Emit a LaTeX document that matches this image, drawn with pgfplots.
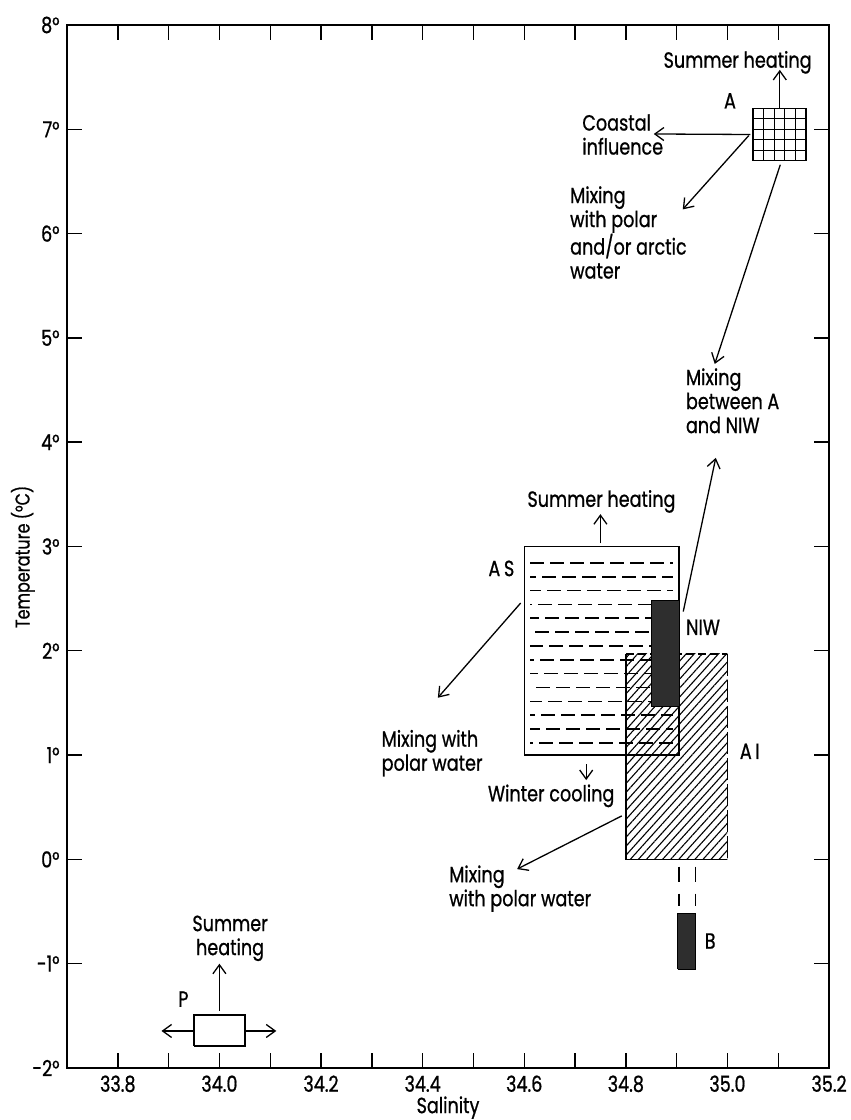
\documentclass[border=0pt]{standalone}
\usepackage{pgfplots}
\pgfplotsset{compat=1.18}
\usepackage{fontspec}
\setmainfont[FakeStretch=0.8, FakeBold=0.8]{Poppins}
\usetikzlibrary{arrows.meta,patterns.meta}

\begin{document}
\fontsize{22}{24}\selectfont
\begin{tikzpicture}[>={Straight Barb[length=9pt,width=13pt]}]
\begin{axis}[
  scale only axis, width=762pt, height=1043pt,
  xmin=33.7, xmax=35.2, ymin=-2, ymax=8,
  xtick={33.8,34.0,34.2,34.4,34.6,34.8,35.0,35.2},
  xticklabels={33.8,34.0,34.2,34.4,34.6,34.8,35.0,35.2},
  minor xtick={33.9,34.1,34.3,34.5,34.7,34.9,35.1},
  ytick={-2,-1,0,1,2,3,4,5,6,7,8},
  yticklabels={-2°,-1°,0°,1°,2°,3°,4°,5°,6°,7°,8°},
  major tick length=15pt, minor tick length=15pt,
  axis line style={line width=1.6pt},
  tick style={black, line width=1.4pt},
  xlabel={Salinity}, ylabel={Temperature (°C)},
  xlabel style={at={(axis description cs:0.5,-0.038)}, anchor=center},
  ylabel style={at={(axis description cs:-0.058,0.49)}, anchor=center, font=\fontsize{20}{22}\selectfont},
  unbounded coords=jump,
  clip=false,
]
% ---- A (grid box)
\addplot[line width=1.4pt] coordinates {(35.05,6.7)(35.155,6.7)(35.155,7.2)(35.05,7.2)(35.05,6.7)};
\addplot[line width=1.2pt] coordinates {
 (35.071,6.7)(35.071,7.2)(nan,nan)(35.092,6.7)(35.092,7.2)(nan,nan)
 (35.113,6.7)(35.113,7.2)(nan,nan)(35.134,6.7)(35.134,7.2)(nan,nan)
 (35.05,6.8)(35.155,6.8)(nan,nan)(35.05,6.9)(35.155,6.9)(nan,nan)
 (35.05,7.0)(35.155,7.0)(nan,nan)(35.05,7.1)(35.155,7.1)};
% ---- AS box
\addplot[line width=1.4pt] coordinates {(34.6,1.0)(34.905,1.0)(34.905,3.0)(34.6,3.0)(34.6,1.0)};
\addplot[line width=1.6pt, dash pattern=on 14pt off 6pt, dash phase=0pt] coordinates {(34.612,2.843)(34.893,2.843)};
\addplot[line width=1.6pt, dash pattern=on 14pt off 6pt, dash phase=8pt] coordinates {(34.612,2.710)(34.893,2.710)};
\addplot[line width=1.6pt, dash pattern=on 14pt off 6pt, dash phase=3pt] coordinates {(34.612,2.577)(34.893,2.577)};
\addplot[line width=1.6pt, dash pattern=on 14pt off 6pt, dash phase=12pt] coordinates {(34.612,2.445)(34.893,2.445)};
\addplot[line width=1.6pt, dash pattern=on 14pt off 6pt, dash phase=5pt] coordinates {(34.612,2.312)(34.893,2.312)};
\addplot[line width=1.6pt, dash pattern=on 14pt off 6pt, dash phase=15pt] coordinates {(34.612,2.179)(34.893,2.179)};
\addplot[line width=1.6pt, dash pattern=on 14pt off 6pt, dash phase=1pt] coordinates {(34.612,2.046)(34.893,2.046)};
\addplot[line width=1.6pt, dash pattern=on 14pt off 6pt, dash phase=10pt] coordinates {(34.612,1.913)(34.893,1.913)};
\addplot[line width=1.6pt, dash pattern=on 14pt off 6pt, dash phase=6pt] coordinates {(34.612,1.781)(34.893,1.781)};
\addplot[line width=1.6pt, dash pattern=on 14pt off 6pt, dash phase=14pt] coordinates {(34.612,1.648)(34.893,1.648)};
\addplot[line width=1.6pt, dash pattern=on 14pt off 6pt, dash phase=2pt] coordinates {(34.612,1.515)(34.893,1.515)};
\addplot[line width=1.6pt, dash pattern=on 14pt off 6pt, dash phase=9pt] coordinates {(34.612,1.382)(34.893,1.382)};
\addplot[line width=1.6pt, dash pattern=on 14pt off 6pt, dash phase=4pt] coordinates {(34.612,1.249)(34.893,1.249)};
\addplot[line width=1.6pt, dash pattern=on 14pt off 6pt, dash phase=11pt] coordinates {(34.612,1.117)(34.893,1.117)};
% ---- AI hatched box
\addplot[draw=none, pattern={Lines[angle=48,distance=6pt,line width=1.1pt]}] coordinates {(34.8,0.0)(35.0,0.0)(35.0,1.97)(34.8,1.97)(34.8,0.0)};
\addplot[line width=1.4pt] coordinates {(34.8,1.97)(34.8,0.0)(35.0,0.0)};
\addplot[line width=1.4pt, dash pattern=on 22pt off 4pt] coordinates {(35.0,1.97)(35.0,0.0)};
\addplot[line width=1.4pt, dash pattern=on 8pt off 4pt] coordinates {(34.8,1.97)(35.0,1.97)};
% ---- NIW
\addplot[draw=black, fill=black!82, line width=0.8pt] coordinates {(34.85,1.47)(34.905,1.47)(34.905,2.48)(34.85,2.48)(34.85,1.47)};
% ---- B and dashed link
\addplot[draw=black, fill=black!82, line width=0.8pt] coordinates {(34.902,-1.05)(34.937,-1.05)(34.937,-0.52)(34.902,-0.52)(34.902,-1.05)};
\addplot[line width=1.4pt, dash pattern=on 15pt off 12pt] coordinates {(34.905,-0.07)(34.905,-0.45)};
\addplot[line width=1.4pt, dash pattern=on 15pt off 12pt] coordinates {(34.937,-0.07)(34.937,-0.45)};
% ---- P box
\addplot[line width=1.4pt] coordinates {(33.95,-1.79)(34.05,-1.79)(34.05,-1.49)(33.95,-1.49)(33.95,-1.79)};
% ---- arrows
\addplot[->, line width=1.3pt] coordinates {(34.0,-1.45)(34.0,-1.0)};
\addplot[->, line width=1.3pt] coordinates {(33.95,-1.645)(33.886,-1.645)};
\addplot[->, line width=1.3pt] coordinates {(34.05,-1.645)(34.112,-1.645)};
\addplot[->, line width=1.3pt] coordinates {(35.103,7.2)(35.103,7.57)};
\addplot[->, line width=1.3pt] coordinates {(35.045,6.95)(34.855,6.955)};
\addplot[->, line width=1.3pt] coordinates {(35.042,6.94)(34.912,6.232)};
\addplot[->, line width=1.3pt] coordinates {(35.104,6.66)(34.975,4.75)};
\addplot[->, line width=1.3pt] coordinates {(34.913,2.376)(34.977,3.85)};
\addplot[->, line width=1.3pt] coordinates {(34.75,3.03)(34.75,3.31)};
\addplot[->, line width=1.3pt] coordinates {(34.722,0.91)(34.722,0.76)};
\addplot[->, line width=1.3pt] coordinates {(34.593,2.458)(34.43,1.55)};
\addplot[->, line width=1.3pt] coordinates {(34.792,0.417)(34.586,-0.093)};
% ---- labels
\node[anchor=base, inner sep=0] at (axis cs:35.02,7.59) {Summer heating};
\node[anchor=base, inner sep=0] at (axis cs:35.005,7.2) {A};
\node[anchor=west, inner sep=0, align=left] at (axis cs:34.714,6.95) {Coastal\\influence};
\node[anchor=north west, inner sep=0, align=left] at (axis cs:34.69,6.455) {Mixing\\with polar\\and/or arctic\\water};
\node[anchor=north west, inner sep=0, align=left] at (axis cs:34.918,4.71) {Mixing\\between A\\and NIW};
\node[anchor=base, inner sep=0] at (axis cs:34.752,3.38) {Summer heating};
\node[anchor=base, inner sep=0] at (axis cs:34.555,2.716) {A\,S};
\node[anchor=base, inner sep=0] at (axis cs:34.952,2.152) {NIW};
\node[anchor=base, inner sep=0] at (axis cs:35.044,0.963) {A\,I};
\node[anchor=base, inner sep=0] at (axis cs:34.966,-0.856) {B};
\node[anchor=base, inner sep=0] at (axis cs:34.653,0.557) {Winter cooling};
\node[anchor=north west, inner sep=0, align=left] at (axis cs:34.319,1.243) {Mixing with\\polar water};
\node[anchor=north west, inner sep=0, align=left] at (axis cs:34.452,-0.056) {Mixing\\with polar water};
\node[anchor=north, inner sep=0, align=center] at (axis cs:34.021,-0.537) {Summer\\heating};
\node[anchor=base, inner sep=0] at (axis cs:33.929,-1.413) {P};
\end{axis}
\pgfresetboundingbox
\path ([shift={(-67pt,-52pt)}]current axis.south west) rectangle ([shift={(21pt,25pt)}]current axis.north east);
\end{tikzpicture}
\end{document}
